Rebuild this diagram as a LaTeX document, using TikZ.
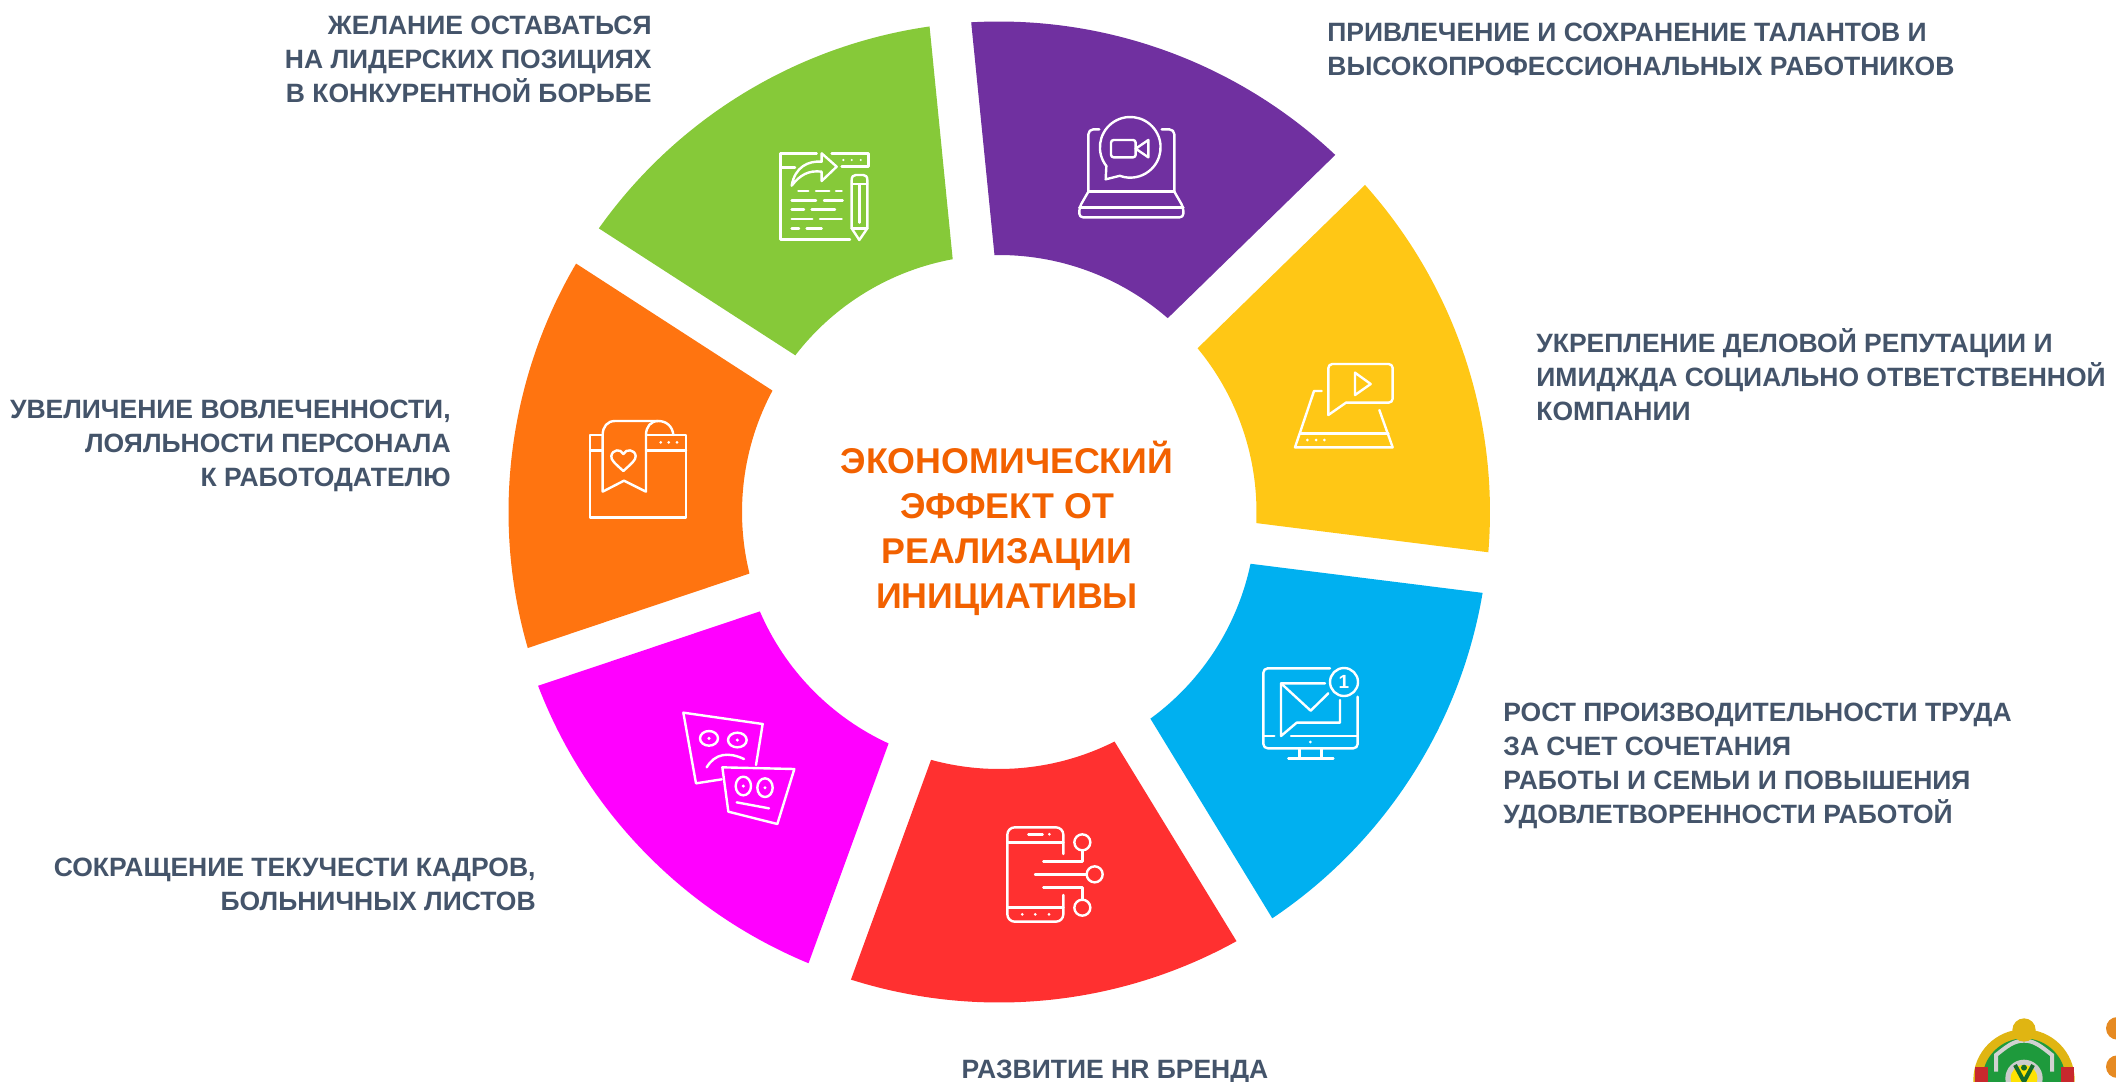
\documentclass[tikz,border=0pt]{standalone}
\usepackage{fontspec}
\setmainfont{Liberation Sans}
\definecolor{segpurple}{HTML}{7030A0}
\definecolor{seggreen}{HTML}{86C939}
\definecolor{segyellow}{HTML}{FFC715}
\definecolor{segblue}{HTML}{00B0F0}
\definecolor{segred}{HTML}{FF3030}
\definecolor{segpink}{HTML}{FF00FF}
\definecolor{segorange}{HTML}{FF7410}
\definecolor{labelgray}{HTML}{44546A}
\definecolor{titleorange}{HTML}{F26100}
\definecolor{crestgold}{HTML}{E0B512}
\definecolor{crestgreen}{HTML}{1E9A3C}
\definecolor{crestred}{HTML}{C8282D}
\definecolor{dotorange}{HTML}{E68A22}
\tikzset{
	label/.style={text=labelgray, font=\bfseries\fontsize{13.25}{17}\selectfont, inner sep=0pt},
	title/.style={text=titleorange, font=\bfseries\fontsize{17.9}{22.5}\selectfont, align=center, inner sep=0pt},
	icon/.style={draw=white, line width=1.2pt, line cap=round, line join=round},
	zoomed/.style={x=0.16667pt, y=-0.16667pt},
}
\begin{document}
\begin{tikzpicture}[x=0.5pt, y=-0.5pt]
	\useasboundingbox (0,0) rectangle (2116,1082);
	\clip (0,0) rectangle (2116,1082);
	\begin{scope}[shift={(999,512)}, y=0.5pt]
		\foreach \segcolor/\sx/\sy [count=\i from 0] in {segpurple/0/0,segyellow/0.5/0,segblue/0/1,segred/0/0,segpink/-3/2,segorange/0/0,seggreen/0/0} {
			\pgfmathsetmacro\a{95.7-\i*51.43}
			\pgfmathsetmacro\b{\a-51.43}
			\begin{scope}[shift={(\sx,\sy)}]
				\fill[\segcolor] ({\a-2.45}:490.5) arc[start angle=\a-2.45, end angle=\b+2.45, radius=490.5]
					-- ({\b+4.69}:257) arc[start angle=\b+4.69, end angle=\a-4.69, radius=257] -- cycle;
			\end{scope}
		}
	\end{scope}

	\node[title] (center) at (1007,528) {ЭКОНОМИЧЕСКИЙ\\ЭФФЕКТ ОТ\\РЕАЛИЗАЦИИ\\ИНИЦИАТИВЫ};
	\node[label, anchor=east, align=right] (desire) at (652,59) {ЖЕЛАНИЕ ОСТАВАТЬСЯ\\НА ЛИДЕРСКИХ ПОЗИЦИЯХ\\В КОНКУРЕНТНОЙ БОРЬБЕ};
	\node[label, anchor=west, align=left] (talent) at (1327,49) {ПРИВЛЕЧЕНИЕ И СОХРАНЕНИЕ ТАЛАНТОВ И\\ВЫСОКОПРОФЕССИОНАЛЬНЫХ РАБОТНИКОВ};
	\node[label, anchor=west, align=left] (image) at (1536,375) {УКРЕПЛЕНИЕ ДЕЛОВОЙ РЕПУТАЦИИ И\\ИМИДЖДА СОЦИАЛЬНО ОТВЕТСТВЕННОЙ\\КОМПАНИИ};
	\node[label, anchor=west, align=left] (growth) at (1503,766) {РОСТ ПРОИЗВОДИТЕЛЬНОСТИ ТРУДА\\ЗА СЧЕТ СОЧЕТАНИЯ\\РАБОТЫ И СЕМЬИ И ПОВЫШЕНИЯ\\УДОВЛЕТВОРЕННОСТИ РАБОТОЙ};
	\node[label] (brand) at (1115,1072) {РАЗВИТИЕ HR БРЕНДА};
	\node[label, anchor=east, align=right] (turnover) at (536,884) {СОКРАЩЕНИЕ ТЕКУЧЕСТИ КАДРОВ,\\БОЛЬНИЧНЫХ ЛИСТОВ};
	\node[label, anchor=east, align=right] (loyalty) at (451,446) {УВЕЛИЧЕНИЕ ВОВЛЕЧЕННОСТИ,\\ЛОЯЛЬНОСТИ ПЕРСОНАЛА\\К РАБОТОДАТЕЛЮ};

	\begin{scope}[shift={(740,120)}, zoomed]
		\draw[icon] (230,100) -- (122,100) -- (122,358) -- (330,358);
		\draw[icon] (275,100) -- (385,100) -- (385,140) -- (305,140);
		\draw[icon] (122,142) -- (165,142);
		\foreach \x in {310,335,362} \fill[white] (\x,120) circle (3.5);
		\draw[icon] (155,197) .. controls (165,140) and (205,122) .. (245,125) -- (245,100) -- (290,140) -- (245,183) -- (245,155) .. controls (205,150) and (180,165) .. (155,197);
		\draw[icon] (335,325) -- (335,180) .. controls (335,170) and (340,165) .. (347,165) -- (370,165) .. controls (377,165) and (382,170) .. (382,180) -- (382,325) -- (358,360) -- cycle;
		\draw[icon] (335,192) -- (382,192) (358,195) -- (358,308) (335,325) -- (382,325);
		\foreach \xa/\xb/\ya in {175/205/213,228/268/213,288/305/213,155/228/241,252/308/241,155/192/269,215/285/269,155/217/297,240/305/297,155/177/325,200/245/325}
			\draw[icon] (\xa,\ya) -- (\xb,\ya);

		\draw[icon] (1099,138) arc[start angle=142, end angle=469, radius=91];
		\draw[icon] (1099,138) -- (1097,178) -- (1141,167);
		\draw[icon, rounded corners=1.3pt] (1187,60) -- (1113,60) -- (1113,112) -- (1187,112) -- cycle;
		\draw[icon] (1187,86) -- (1225,60) -- (1225,112) -- cycle;
		\draw[icon, rounded corners=2.5pt] (1078,28) -- (1045,28) -- (1045,215);
		\draw[icon, rounded corners=2.5pt] (1265,28) -- (1303,28) -- (1303,215);
		\draw[icon] (1045,215) -- (1303,215) (1018,262) -- (1330,262);
		\draw[icon, rounded corners=1.8pt] (1045,215) -- (1018,262) -- (1018,292) -- (1330,292) -- (1330,262) -- (1303,215);
	\end{scope}

	\begin{scope}[shift={(1240,340)}, zoomed]
		\draw[icon, rounded corners=2pt] (265,225) -- (265,72) -- (458,72) -- (458,188) -- (318,188);
		\draw[icon] (265,225) -- (318,188);
		\draw[icon] (345,98) -- (345,165) -- (392,132) -- cycle;
		\draw[icon] (245,153) -- (222,153) -- (165,322) -- (458,322) -- (418,210);
		\draw[icon] (180,280) -- (445,280);
		\foreach \x in {202,228,253} \fill[white] (\x,300) circle (4.5);
	\end{scope}

	\begin{scope}[shift={(1240,650)}, zoomed]
		\draw[icon, rounded corners=2.2pt] (270,55) -- (70,55) -- (70,295) -- (353,295) -- (353,140);
		\draw[icon] (70,258) -- (103,258) (153,258) -- (353,258);
		\fill[white] (211,276) circle (4.5);
		\draw[icon] (178,295) -- (178,325) (245,295) -- (245,325) (145,325) -- (280,325);
		\draw[icon] (255,100) -- (123,100) -- (123,258) -- (170,218) -- (300,218) -- (300,150);
		\draw[icon] (123,100) -- (212,182) -- (265,130);
		\draw[icon] (312,96) circle (42);
		\node[text=white, font=\bfseries\fontsize{9.5}{10}\selectfont, inner sep=0pt] (badge) at (312,96) {1};
	\end{scope}

	\begin{scope}[shift={(980,810)}, zoomed]
		\draw[icon, rounded corners=3.7pt] (250,132) -- (250,52) -- (82,52) -- (82,335) -- (250,335) -- (250,255);
		\draw[icon] (82,97) -- (250,97) (82,292) -- (250,292) (145,73) -- (188,73);
		\fill[white] (208,73) circle (4.5);
		\foreach \x in {127,166,207} \fill[white] (\x,313) circle (4.5);
		\draw[icon] (190,155) -- (307,155) -- (307,120);
		\draw[icon] (307,97) circle (24);
		\draw[icon] (165,193) -- (320,193);
		\draw[icon] (344,193) circle (24);
		\draw[icon] (190,232) -- (307,232) -- (307,270);
		\draw[icon] (307,293) circle (24);
	\end{scope}

	\begin{scope}[shift={(660,700)}, zoomed]
		\draw[icon] (288,195) -- (308,72) -- (70,38) -- (108,250) -- (185,238);
		\draw[icon] (147,115) ellipse [x radius=27, y radius=22];
		\draw[icon] (232,120) ellipse [x radius=28, y radius=22];
		\fill[white] (147,115) circle (5) (232,120) circle (5);
		\draw[icon] (140,202) .. controls (165,160) and (205,155) .. (252,177);
		\draw[icon] (187,202) -- (403,207) -- (352,372) -- (205,335) -- cycle;
		\draw[icon] (250,258) ellipse [x radius=23, y radius=28];
		\draw[icon] (315,263) ellipse [x radius=23, y radius=28];
		\fill[white] (250,258) circle (5) (315,263) circle (5);
		\draw[icon] (230,307) -- (327,325);
	\end{scope}

	\begin{scope}[shift={(570,410)}, zoomed]
		\draw[icon] (98,75) -- (60,75) -- (60,322) -- (348,322) -- (348,75) -- (228,75);
		\draw[icon] (60,122) -- (98,122) (228,122) -- (348,122);
		\foreach \x in {272,296,321} \fill[white] (\x,97) circle (4.5);
		\draw[icon] (98,75) .. controls (98,50) and (112,33) .. (135,33) -- (265,33) .. controls (290,33) and (308,50) .. (310,75);
		\draw[icon] (265,33) .. controls (242,33) and (228,50) .. (228,75) -- (228,245) -- (162,212) -- (98,245) -- (98,75);
		\draw[icon] (160,183) .. controls (135,160) and (122,150) .. (124,138) .. controls (127,118) and (152,115) .. (160,132) .. controls (168,115) and (195,118) .. (197,138) .. controls (198,150) and (185,160) .. (160,183);
	\end{scope}

	\begin{scope}[shift={(1940,1000)}, zoomed]
		\fill[crestgold] (252,240) circle (152);
		\fill[crestgreen] (252,240) circle (125);
		\draw[gray!35, line width=2pt] (168,215) -- (168,165) .. controls (200,140) and (220,122) .. (252,122) .. controls (284,122) and (304,140) .. (336,165) -- (336,215);
		\fill[gray!40] (252,235) circle (56);
		\fill[yellow!85!orange] (252,235) circle (40);
		\draw[crestgreen!70!black, line width=2pt] (225,195) -- (252,245) -- (279,195);
		\fill[crestgreen!70!black] (252,203) circle (9);
		\fill[crestred] (105,200) rectangle (145,246);
		\fill[crestred] (362,200) rectangle (402,246);
		\fill[crestgold] (252,90) circle (35);
		\fill[dotorange] (532,85) circle (34);
		\fill[dotorange] (532,200) circle (34);
	\end{scope}
\end{tikzpicture}
\end{document}
